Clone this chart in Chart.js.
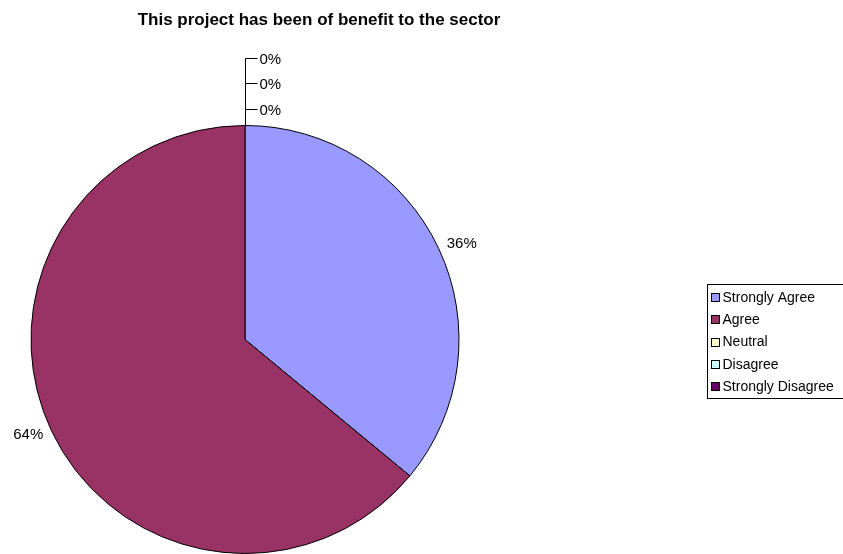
<!DOCTYPE html>
<html>
<head>
<meta charset="utf-8">
<script src="https://cdn.jsdelivr.net/npm/chart.js@4/dist/chart.umd.min.js"></script>
<style>
  html, body { margin: 0; padding: 0; background: #fff; }
  #wrap { width: 843px; height: 554px; position: relative; }
</style>
</head>
<body>
<div id="wrap"><canvas id="pie"></canvas></div>
<script>
// answers and their share of responses (percent)
const answers = ["Strongly Agree", "Agree", "Neutral", "Disagree", "Strongly Disagree"]
const shares = [36, 64, 0, 0, 0]
const sliceColors = ["#9999FF", "#993366", "#FFFFCC", "#CCFFFF", "#660066"]
const chartTitle = "This project has been of benefit to the sector"

const FONT = "Liberation Sans, Arial, sans-serif"

// percent labels, leader lines for empty slices, title and boxed legend
const decorations = {
  id: "decorations",
  afterDraw(chart) {
    const ctx = chart.ctx
    const arcs = chart.getDatasetMeta(0).data
    const values = chart.data.datasets[0].data
    ctx.save()

    // title
    ctx.fillStyle = "#000"
    ctx.font = "bold 17px " + FONT
    ctx.textAlign = "center"
    ctx.textBaseline = "middle"
    ctx.fillText(chartTitle, 319, 20)

    // labels
    ctx.font = "15px " + FONT
    ctx.textBaseline = "middle"
    let zeroCount = 0
    arcs.forEach((arc, i) => {
      const { x, y, startAngle, endAngle, outerRadius } = arc.getProps(["x", "y", "startAngle", "endAngle", "outerRadius"], true)
      const text = values[i] + "%"
      if (values[i] === 0) {
        // stack empty slices above the top of the pie with leader lines
        const topX = Math.round(x + Math.cos(startAngle) * outerRadius) + 0.5
        const topY = y + Math.sin(startAngle) * outerRadius
        const ly = Math.round(topY - 17 - zeroCount * 25.5) + 0.5
        ctx.strokeStyle = "#000"
        ctx.lineWidth = 1
        ctx.beginPath()
        ctx.moveTo(topX, topY)
        ctx.lineTo(topX, ly)
        ctx.lineTo(topX + 12, ly)
        ctx.stroke()
        ctx.textAlign = "left"
        ctx.fillText(text, topX + 14, ly + 1)
        zeroCount++
        return
      }
      const mid = (startAngle + endAngle) / 2
      const lx = x + Math.cos(mid) * (outerRadius + 9)
      const ly = y + Math.sin(mid) * (outerRadius + 10)
      ctx.textAlign = Math.cos(mid) >= 0 ? "left" : "right"
      ctx.fillText(text, lx, ly)
    })

    // legend
    const bx = 707.5, by = 284.5, rowH = 22.25
    ctx.strokeStyle = "#000"
    ctx.lineWidth = 1
    ctx.strokeRect(bx, by, 150, 114)
    ctx.font = "14px " + FONT
    ctx.textAlign = "left"
    answers.forEach((name, i) => {
      const cy = 297 + i * rowH
      const sy = Math.round(cy - 4) + 0.5
      ctx.fillStyle = sliceColors[i]
      ctx.fillRect(bx + 4, sy, 8, 8)
      ctx.strokeRect(bx + 4, sy, 8, 8)
      ctx.fillStyle = "#000"
      ctx.fillText(name, bx + 15, cy + 1)
    })
    ctx.restore()
  }
}

new Chart(document.getElementById("pie"), {
  type: "pie",
  data: {
    labels: answers,
    datasets: [{
      data: shares,
      backgroundColor: sliceColors,
      borderColor: "#000",
      borderWidth: 1
    }]
  },
  options: {
    responsive: true,
    maintainAspectRatio: false,
    animation: false,
    layout: { padding: { left: 30, right: 383, top: 125, bottom: 0 } },
    plugins: {
      legend: { display: false },
      title: { display: false },
      tooltip: { enabled: false }
    }
  },
  plugins: [decorations]
})
</script>
</body>
</html>
